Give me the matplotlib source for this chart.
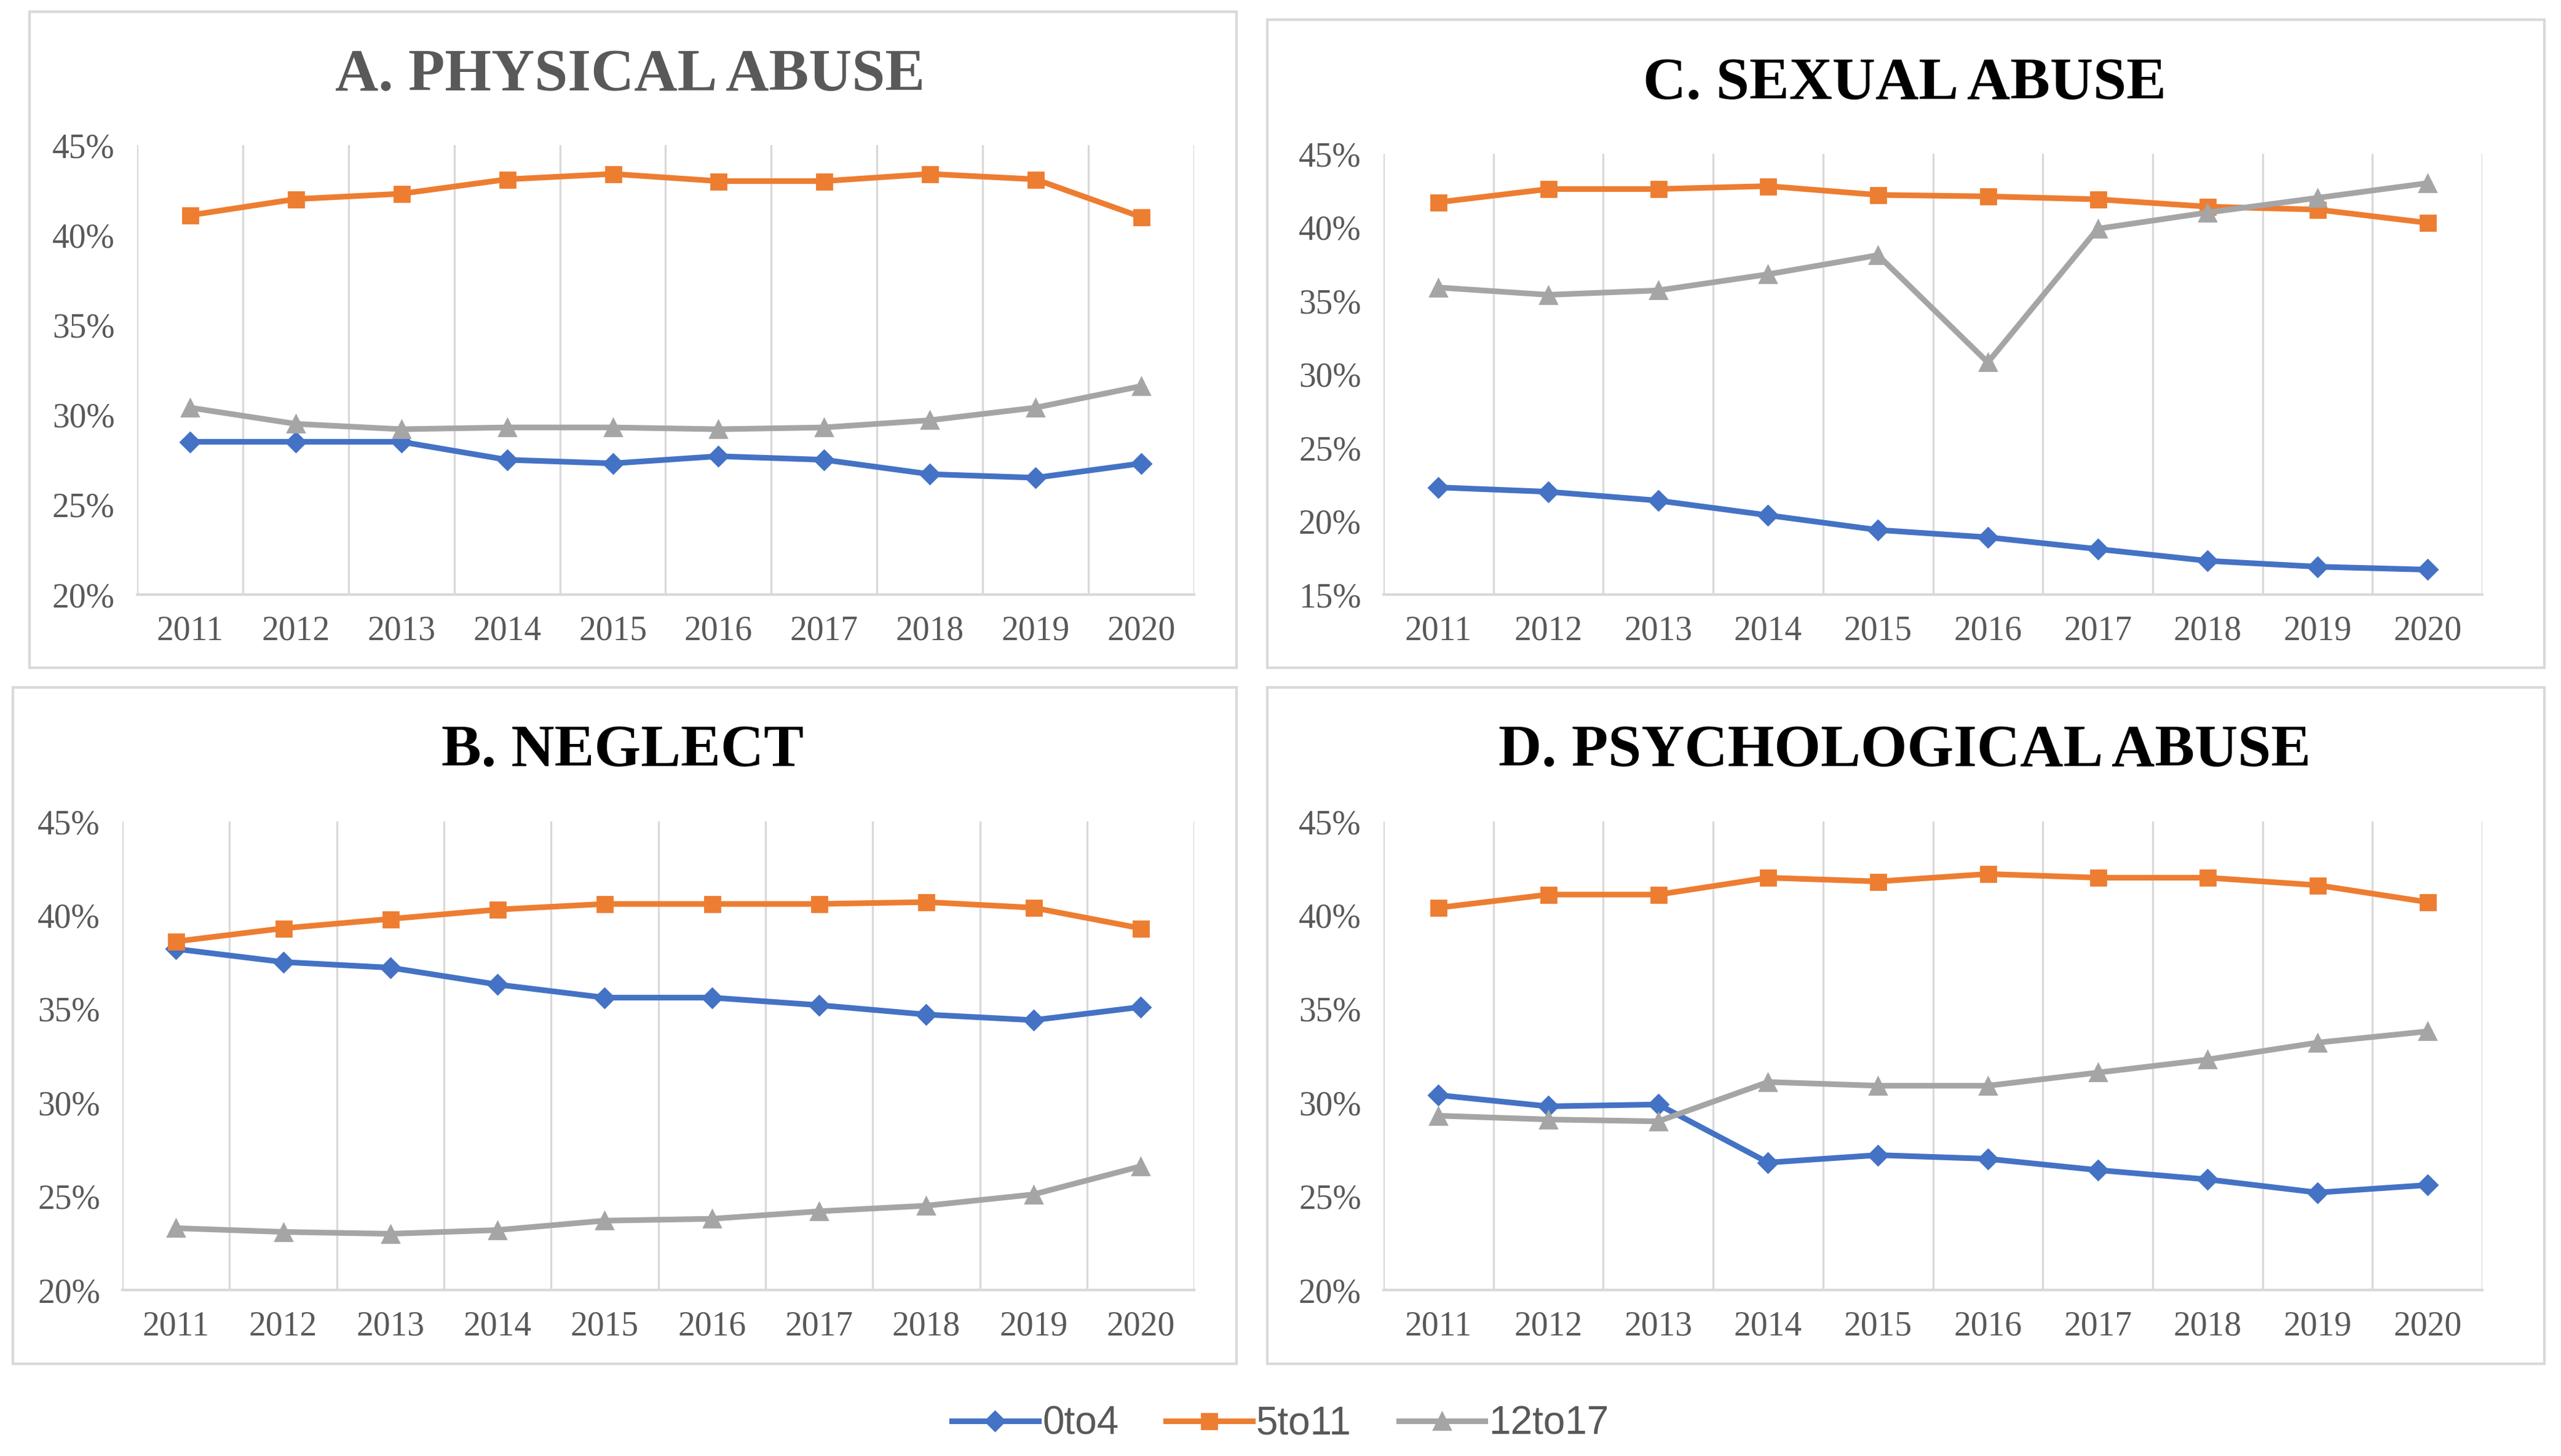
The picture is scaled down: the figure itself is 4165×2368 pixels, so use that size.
import matplotlib.pyplot as plt
from matplotlib.patches import Rectangle
from matplotlib.lines import Line2D

# data (percent)
years = ['2011', '2012', '2013', '2014', '2015', '2016', '2017', '2018', '2019', '2020']

phys_0to4 = [28.5, 28.5, 28.5, 27.5, 27.3, 27.7, 27.5, 26.7, 26.5, 27.3]
phys_5to11 = [41.1, 42.0, 42.3, 43.1, 43.4, 43.0, 43.0, 43.4, 43.1, 41.0]
phys_12to17 = [30.4, 29.5, 29.2, 29.3, 29.3, 29.2, 29.3, 29.7, 30.4, 31.6]

sex_0to4 = [22.3, 22.0, 21.4, 20.4, 19.4, 18.9, 18.1, 17.3, 16.9, 16.7]
sex_5to11 = [41.7, 42.6, 42.6, 42.8, 42.2, 42.1, 41.9, 41.4, 41.2, 40.3]
sex_12to17 = [35.9, 35.4, 35.7, 36.8, 38.1, 30.8, 39.9, 41.0, 42.0, 43.0]

negl_0to4 = [38.2, 37.5, 37.2, 36.3, 35.6, 35.6, 35.2, 34.7, 34.4, 35.1]
negl_5to11 = [38.6, 39.3, 39.8, 40.3, 40.6, 40.6, 40.6, 40.7, 40.4, 39.3]
negl_12to17 = [23.3, 23.1, 23.0, 23.2, 23.7, 23.8, 24.2, 24.5, 25.1, 26.6]

psy_0to4 = [30.4, 29.8, 29.9, 26.8, 27.2, 27.0, 26.4, 25.9, 25.2, 25.6]
psy_5to11 = [40.4, 41.1, 41.1, 42.0, 41.8, 42.2, 42.0, 42.0, 41.6, 40.7]
psy_12to17 = [29.3, 29.1, 29.0, 31.1, 30.9, 30.9, 31.6, 32.3, 33.2, 33.8]

series_names = ['0to4', '5to11', '12to17']
colors = ['#4472C4', '#ED7D31', '#A5A5A5']
markers = ['D', 's', '^']
msizes = [8, 9, 10]

serif = ['Liberation Serif', 'DejaVu Serif']
tick_col = '#595959'
grid_col = '#D9D9D9'

fig = plt.figure(figsize=(20.825, 11.84), dpi=200)

panels = [
    # title, title colour, data, ylim, axes rect, box rect, title pos
    ('A. PHYSICAL ABUSE', '#595959', [phys_0to4, phys_5to11, phys_12to17], (20, 45),
     [0.0535, 0.5916, 0.4128, 0.3087], [0.0115, 0.5414, 0.4713, 0.4506], (0.246, 0.948)),
    ('C. SEXUAL ABUSE', 'black', [sex_0to4, sex_5to11, sex_12to17], (15, 45),
     [0.5402, 0.5916, 0.4291, 0.3028], [0.4948, 0.5414, 0.4987, 0.4451], (0.7436, 0.942)),
    ('B. NEGLECT', 'black', [negl_0to4, negl_5to11, negl_12to17], (20, 45),
     [0.0478, 0.1140, 0.4185, 0.3218], [0.0050, 0.0633, 0.4778, 0.4646], (0.243, 0.4838)),
    ('D. PSYCHOLOGICAL ABUSE', 'black', [psy_0to4, psy_5to11, psy_12to17], (20, 45),
     [0.5402, 0.1140, 0.4291, 0.3218], [0.4948, 0.0633, 0.4987, 0.4646], (0.7436, 0.4838)),
]

for title, tcol, data, ylim, rect, box, tpos in panels:
    # light frame around each chart
    fig.add_artist(Rectangle((box[0], box[1]), box[2], box[3], transform=fig.transFigure,
                             fill=False, edgecolor=grid_col, linewidth=1.5))
    fig.text(tpos[0], tpos[1], title, ha='center', va='center', fontsize=35,
             fontweight='bold', color=tcol, family=serif)

    ax = fig.add_axes(rect)
    x = range(len(years))
    for vals, c, m, ms in zip(data, colors, markers, msizes):
        ax.plot(x, vals, color=c, marker=m, markersize=ms, linewidth=3.3, zorder=3)

    ax.set_xlim(-0.5, len(years) - 0.5)
    ax.set_ylim(*ylim)
    ax.set_yticks(range(ylim[0], ylim[1] + 1, 5))
    ax.set_yticklabels([f'{v}%' for v in range(ylim[0], ylim[1] + 1, 5)])
    ax.set_xticks(list(x))
    ax.set_xticklabels(years)
    # vertical gridlines between categories (Excel style)
    for k in range(len(years) + 1):
        ax.axvline(k - 0.5, color=grid_col, linewidth=1.2, zorder=1)
    for s in ['top', 'right', 'left']:
        ax.spines[s].set_visible(False)
    ax.spines['bottom'].set_color(grid_col)
    ax.spines['bottom'].set_linewidth(1.5)
    ax.tick_params(length=0, labelsize=20, colors=tick_col)
    ax.tick_params(axis='x', pad=12)
    ax.tick_params(axis='y', pad=13)
    for lab in ax.get_xticklabels() + ax.get_yticklabels():
        lab.set_family(serif)

handles = [Line2D([0], [0], color=c, marker=m, markersize=ms, linewidth=3.3)
           for c, m, ms in zip(colors, markers, msizes)]
fig.legend(handles, series_names, loc='center', bbox_to_anchor=(0.5, 0.022), ncol=3,
           frameon=False, handlelength=2.2, handletextpad=0.1, columnspacing=1.2,
           prop={'family': ['Liberation Sans Narrow', 'Liberation Sans'], 'size': 23},
           labelcolor=tick_col)

fig.savefig('out.png', dpi=200, facecolor='white')
